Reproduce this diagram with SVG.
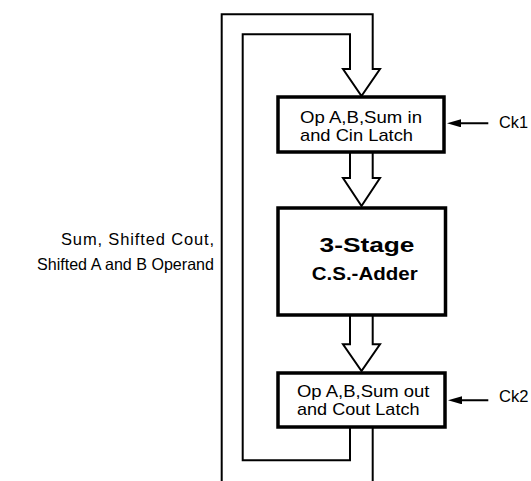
<svg xmlns="http://www.w3.org/2000/svg" width="531" height="481" viewBox="0 0 531 481">
<style>
  .box { fill: #fff; stroke: #000; stroke-width: 3.5; }
  .wire { fill: none; stroke: #000; stroke-width: 2; stroke-linejoin: miter; }
  .clk { fill: none; stroke: #000; stroke-width: 2; }
  .t { font-family: "Liberation Sans", Arial, Helvetica, sans-serif; fill: #000; }
  .bt { font-size: 17px; }
  .lt { font-size: 16.5px; text-anchor: end; }
  .ck { font-size: 16px; }
  .bold { font-weight: bold; }
</style>
<defs>
  <marker id="ah" viewBox="0 0 14 8" refX="6" refY="4" markerWidth="14" markerHeight="8" markerUnits="userSpaceOnUse" orient="auto">
    <path d="M0,0 L14,4 L0,8 z" fill="#000"/>
  </marker>
</defs>
<rect width="531" height="481" fill="#fff"/>
<g id="connectors">
  <path class="wire" d="M221.7,481 V14.3 H372.7 V69 H380 L361.5,96 L343,69 H350 V34.3 H242.7 V460.3 H350 V427"/>
  <path class="wire" d="M372.7,427 V481"/>
  <path class="wire" d="M350,152 V178 H343 L361.5,206 L380,178 H372.7 V152"/>
  <path class="wire" d="M350,315 V344.3 H343 L361.5,371 L380,344.3 H372.7 V315"/>
  <line class="clk" x1="488.3" y1="123.3" x2="455" y2="123.3" marker-end="url(#ah)"/>
  <line class="clk" x1="488.3" y1="400.3" x2="456" y2="400.3" marker-end="url(#ah)"/>
</g>
<g id="in-latch">
  <rect class="box" x="278" y="97" width="166" height="55"/>
  <text class="t bt" x="300" y="122.5" textLength="122" lengthAdjust="spacingAndGlyphs">Op A,B,Sum in</text>
  <text class="t bt" x="300" y="140.5" textLength="113" lengthAdjust="spacingAndGlyphs">and Cin Latch</text>
</g>
<g id="adder">
  <rect class="box" x="278" y="208" width="167.5" height="107"/>
  <text class="t bold" x="319.5" y="251.5" font-size="20" textLength="95" lengthAdjust="spacingAndGlyphs">3-Stage</text>
  <text class="t bold" x="311.7" y="280" font-size="17.5" textLength="106" lengthAdjust="spacingAndGlyphs">C.S.-Adder</text>
</g>
<g id="out-latch">
  <rect class="box" x="278" y="373" width="167" height="54"/>
  <text class="t bt" x="297" y="396.5" textLength="132.5" lengthAdjust="spacingAndGlyphs">Op A,B,Sum out</text>
  <text class="t bt" x="297" y="414.5" textLength="122.5" lengthAdjust="spacingAndGlyphs">and Cout Latch</text>
</g>
<g id="ck1">
  <text class="t ck" x="499" y="128" textLength="29" lengthAdjust="spacingAndGlyphs">Ck1</text>
</g>
<g id="ck2">
  <text class="t ck" x="499" y="401.5" textLength="29.5" lengthAdjust="spacingAndGlyphs">Ck2</text>
</g>
<g id="feedback-label">
  <text class="t lt" x="214" y="244.5" textLength="153" lengthAdjust="spacing">Sum, Shifted Cout,</text>
  <text class="t lt" x="214" y="270" textLength="177" lengthAdjust="spacingAndGlyphs">Shifted A and B Operand</text>
</g>
</svg>
